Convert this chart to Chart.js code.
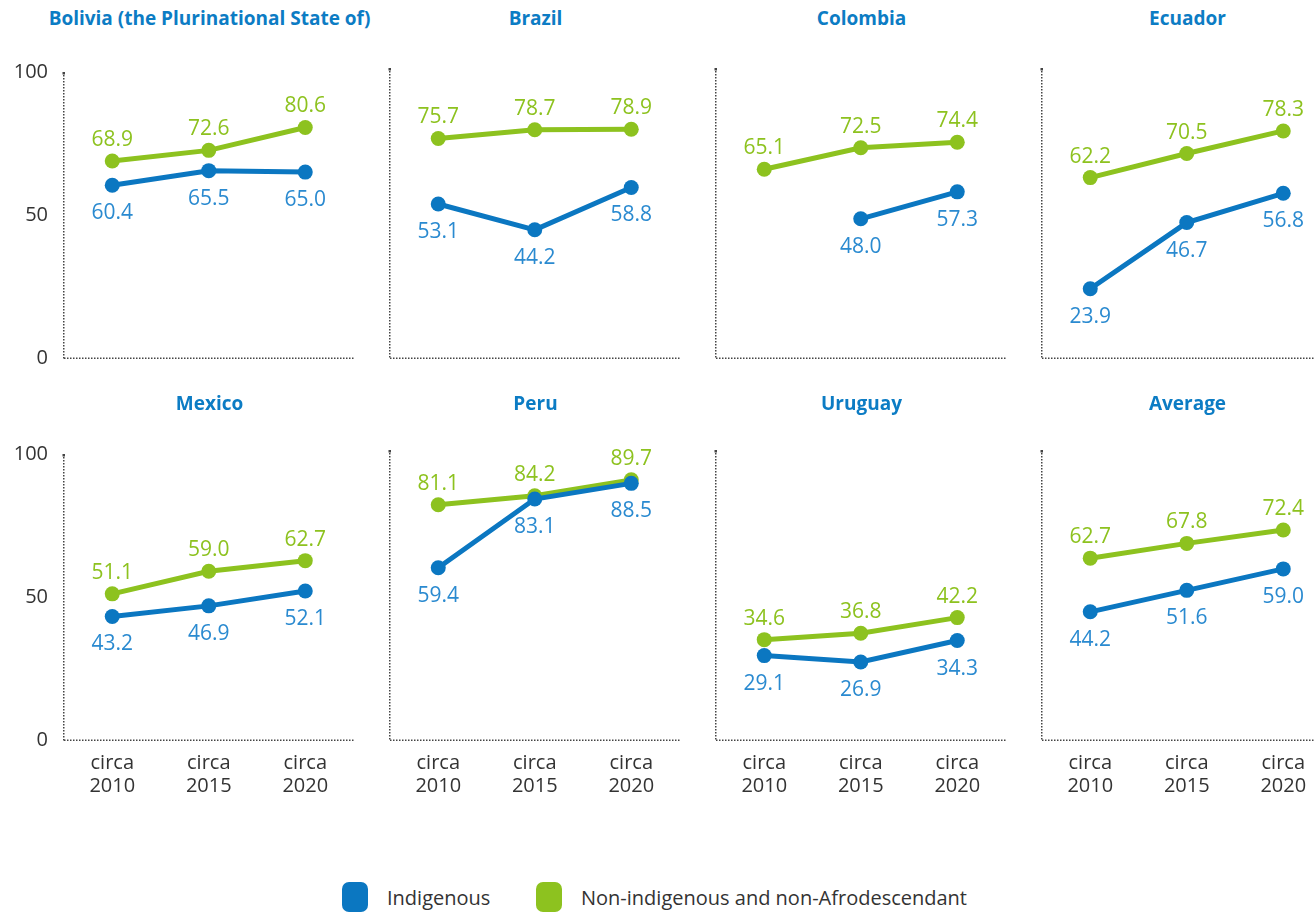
<!DOCTYPE html>
<html>
<head>
<meta charset="utf-8">
<script src="https://cdn.jsdelivr.net/npm/chart.js@4.4.0/dist/chart.umd.min.js"></script>
<style>
    body { margin: 0; background: #fff; width: 1314px; height: 912px; overflow: hidden; position: relative; font-family: "Open Sans", sans-serif; }
    canvas { position: absolute; }
    .title { position: absolute; transform: translate(-50%, -50%); font-weight: bold; color: #0c7cc4; font-size: 19px; white-space: nowrap; }
    .box { position: absolute; top: 882px; width: 26px; height: 30px; border-radius: 7px; }
    .ltext { position: absolute; top: 884px; font-size: 20px; line-height: 28px; color: #333; white-space: nowrap; }
</style>
</head>
<body>

<div class="box" style="left:342px;background:#0b77c1"></div>
<div class="ltext" style="left:387px">Indigenous</div>
<div class="box" style="left:536px;background:#8dc21f"></div>
<div class="ltext" style="left:581px">Non-indigenous and non-Afrodescendant</div>

<script>
// data
const periods = [['circa', '2010'], ['circa', '2015'], ['circa', '2020']];
const countries = ['Bolivia (the Plurinational State of)', 'Brazil', 'Colombia', 'Ecuador',
    'Mexico', 'Peru', 'Uruguay', 'Average'];
const indigenous = [
    [60.4, 65.5, 65.0],
    [53.1, 44.2, 58.8],
    [null, 48.0, 57.3],
    [23.9, 46.7, 56.8],
    [43.2, 46.9, 52.1],
    [59.4, 83.1, 88.5],
    [29.1, 26.9, 34.3],
    [44.2, 51.6, 59.0]
];
const nonIndigenous = [
    [68.9, 72.6, 80.6],
    [75.7, 78.7, 78.9],
    [65.1, 72.5, 74.4],
    [62.2, 70.5, 78.3],
    [51.1, 59.0, 62.7],
    [81.1, 84.2, 89.7],
    [34.6, 36.8, 42.2],
    [62.7, 67.8, 72.4]
];
const yTicks = [0, 50, 100];

const BLUE = '#0b77c1';
const GREEN = '#8dc21f';
const BLUE_TEXT = '#2a8ad0';
const GREEN_TEXT = '#8dc21f';

// layout of the grid
const axisX = [64, 390, 716, 1042];
const chartTop = [68, 450];
const titleY = [18, 403];
const AREA_W = 291, AREA_H = 290, Y_W = 64, X_H = 70, PAD_TOP = 24, PAD_RIGHT = 6;

// value labels: green above the point, blue below
const valueLabels = {
    id: 'valueLabels',
    afterDatasetsDraw(chart) {
        const ctx = chart.ctx;
        ctx.save();
        ctx.font = '21px "Open Sans", sans-serif';
        ctx.textAlign = 'center';
        ctx.textBaseline = 'alphabetic';
        chart.data.datasets.forEach((ds, i) => {
            const meta = chart.getDatasetMeta(i);
            meta.data.forEach((pt, j) => {
                const v = ds.data[j];
                if (v == null) return;
                ctx.fillStyle = i === 0 ? BLUE_TEXT : GREEN_TEXT;
                const dy = i === 0 ? 34 : -15;
                ctx.fillText(v.toFixed(1), pt.x, pt.y + dy);
            });
        });
        ctx.restore();
    }
};

// dotted axis lines on the left and bottom of every panel
const dottedAxes = {
    id: 'dottedAxes',
    beforeDatasetsDraw(chart) {
        const { ctx, chartArea: a } = chart;
        ctx.save();
        ctx.fillStyle = '#444';
        for (let y = a.top; y <= a.bottom; y += 3) ctx.fillRect(a.left - 1, y, 1.5, 1.5);
        for (let x = a.left; x <= a.right; x += 3) ctx.fillRect(x, a.bottom - 0.5, 1.5, 1.5);
        ctx.fillRect(a.left - 1.5, a.top, 2.5, 2.5);
        ctx.restore();
    }
};

countries.forEach((name, k) => {
    const col = k % 4, row = Math.floor(k / 4);

    const title = document.createElement('div');
    title.className = 'title';
    title.textContent = name;
    title.style.left = (axisX[col] + AREA_W / 2) + 'px';
    title.style.top = titleY[row] + 'px';
    document.body.appendChild(title);

    const canvas = document.createElement('canvas');
    const w = Y_W + AREA_W + PAD_RIGHT, h = PAD_TOP + AREA_H + X_H;
    canvas.width = w;
    canvas.height = h;
    canvas.style.left = (axisX[col] - Y_W) + 'px';
    canvas.style.top = (chartTop[row] - PAD_TOP) + 'px';
    document.body.appendChild(canvas);

    new Chart(canvas, {
        type: 'line',
        data: {
            labels: periods,
            datasets: [
                { label: 'Indigenous', data: indigenous[k], borderColor: BLUE, backgroundColor: BLUE },
                { label: 'Non-indigenous and non-Afrodescendant', data: nonIndigenous[k], borderColor: GREEN, backgroundColor: GREEN }
            ]
        },
        options: {
            responsive: false,
            animation: false,
            devicePixelRatio: 1,
            layout: { padding: { top: PAD_TOP, right: PAD_RIGHT, left: 0, bottom: 0 } },
            elements: {
                line: { borderWidth: 5, tension: 0 },
                point: { radius: 7.5, hoverRadius: 7.5, borderWidth: 0 }
            },
            plugins: { legend: { display: false }, tooltip: { enabled: false } },
            scales: {
                x: {
                    offset: true,
                    grid: { display: false, drawTicks: false },
                    border: { display: false },
                    ticks: {
                        display: row === 1,
                        color: '#333',
                        font: { family: '"Open Sans", sans-serif', size: 20, lineHeight: 1.15 },
                        padding: 12,
                        maxRotation: 0
                    },
                    afterFit: (s) => { s.height = X_H; }
                },
                y: {
                    min: 0,
                    max: 100,
                    afterBuildTicks: (s) => { s.ticks = yTicks.map(v => ({ value: v })); },
                    grid: { display: false, drawTicks: false },
                    border: { display: false },
                    ticks: {
                        display: col === 0,
                        color: '#333',
                        font: { family: '"Open Sans", sans-serif', size: 20 },
                        padding: 16
                    },
                    afterFit: (s) => { s.width = Y_W; }
                }
            }
        },
        plugins: [dottedAxes, valueLabels]
    });
});
</script>
</body>
</html>
